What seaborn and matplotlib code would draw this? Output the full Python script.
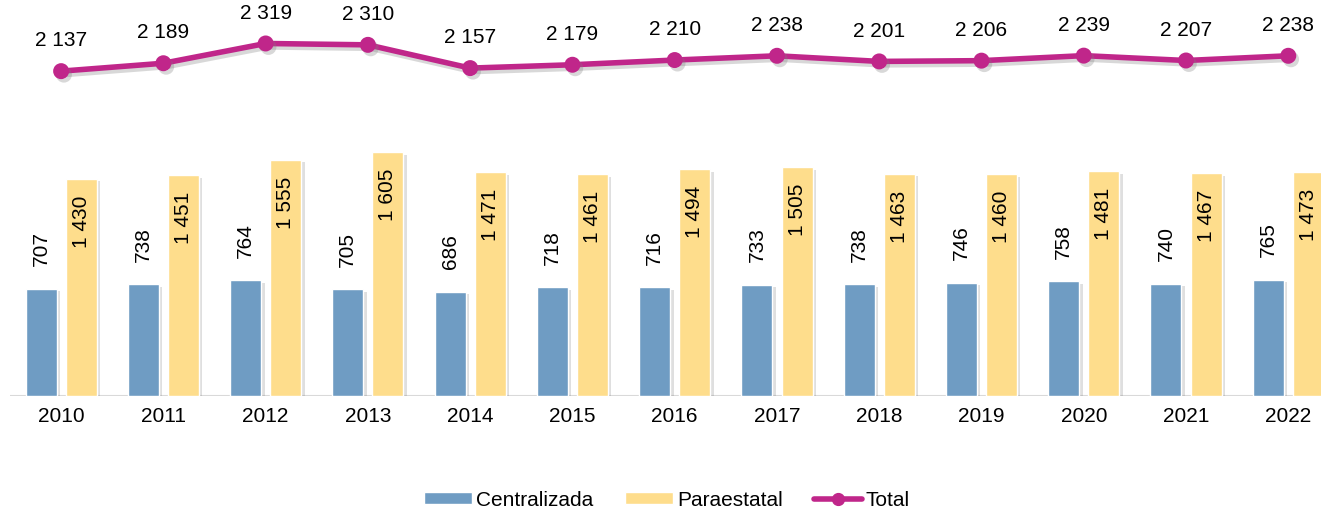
import pandas as pd
import matplotlib
matplotlib.use('Agg')
import matplotlib.pyplot as plt
import matplotlib.patheffects as pe
from matplotlib.patches import Patch
from matplotlib.lines import Line2D
import seaborn as sns

# Data
years = ['2010', '2011', '2012', '2013', '2014', '2015', '2016',
         '2017', '2018', '2019', '2020', '2021', '2022']
centralizada = [707, 738, 764, 705, 686, 718, 716, 733, 738, 746, 758, 740, 765]
paraestatal = [1430, 1451, 1555, 1605, 1471, 1461, 1494, 1505, 1463, 1460, 1481, 1467, 1473]
total = [2137, 2189, 2319, 2310, 2157, 2179, 2210, 2238, 2201, 2206, 2239, 2207, 2238]

BLUE = '#6F9CC3'
YELLOW = '#FEDD8C'
MAGENTA = '#C0268A'

def fmt(v):
    return f"{v:,}".replace(",", " ")

df = pd.DataFrame({'year': years * 2,
                   'valor': centralizada + paraestatal,
                   'tipo': ['Centralizada'] * len(years) + ['Paraestatal'] * len(years)})
df_tot = pd.DataFrame({'year': years, 'total': total})

sns.set_style('white')
plt.rcParams['font.family'] = ['Liberation Sans', 'DejaVu Sans']
plt.rcParams['text.color'] = 'black'
plt.rcParams['xtick.color'] = 'black'

FS = 15

fig = plt.figure(figsize=(13.21, 5.09), dpi=100)
ax = fig.add_axes([10 / 1321, 113 / 509, 1311 / 1321, 396 / 509])

sns.barplot(data=df, x='year', y='valor', hue='tipo', palette=[BLUE, YELLOW],
            saturation=1, width=0.784, gap=0.227, ax=ax, legend=False)
shadow = [pe.SimplePatchShadow(offset=(2.5, -2), shadow_rgbFace='#808080', alpha=0.25), pe.Normal()]
for p in ax.patches:
    p.set_path_effects(shadow)

sns.pointplot(data=df_tot, x='year', y='total', color=MAGENTA, markers='o',
              markersize=8.5, linewidth=4, ax=ax)
for ln in ax.lines:
    ln.set_path_effects([pe.SimpleLineShadow(offset=(2, -2.5), shadow_color='#808080', alpha=0.3),
                         pe.Normal()])

# value labels
for i, (c, p_, t) in enumerate(zip(centralizada, paraestatal, total)):
    ax.annotate(fmt(c), (i - 0.196, c), xytext=(0, 16), textcoords='offset points',
                rotation=90, ha='center', va='bottom', fontsize=FS)
    ax.annotate(fmt(p_), (i + 0.196, p_), xytext=(0, -12), textcoords='offset points',
                rotation=90, ha='center', va='top', fontsize=FS)
    ax.annotate(fmt(t), (i, t), xytext=(0, 15), textcoords='offset points',
                ha='center', va='bottom', fontsize=FS)

ax.set_xlim(-0.5, 12.32)
ax.set_ylim(0, 2605)
ax.axhline(0, color='#D9D9D9', lw=1.5, zorder=0)
ax.set_yticks([])
ax.set_xlabel('')
ax.set_ylabel('')
ax.tick_params(axis='x', length=0, pad=8, labelsize=FS)
sns.despine(ax=ax, left=True, bottom=True)

# legend
handles = [Patch(facecolor=BLUE, label='Centralizada'),
           Patch(facecolor=YELLOW, label='Paraestatal'),
           Line2D([0], [0], color=MAGENTA, lw=4, marker='o', markersize=8.5, label='Total')]
fig.legend(handles=handles, loc='center', bbox_to_anchor=(0.505, 9 / 509), ncol=3,
           frameon=False, fontsize=FS, handlelength=2.3, handleheight=0.5,
           handletextpad=0.2, columnspacing=1.5)

fig.savefig('out.png', dpi=100)
